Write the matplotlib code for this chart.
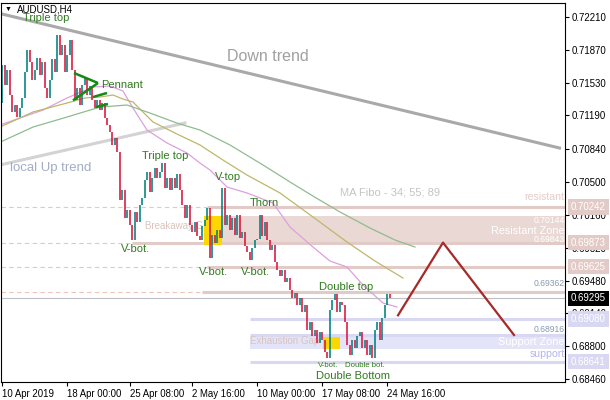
import numpy as np
import matplotlib.pyplot as plt
from matplotlib.transforms import blended_transform_factory

plt.rcParams['font.family'] = ['Liberation Sans', 'DejaVu Sans']

# ---- data (AUDUSD H4) ----
first_open = 0.71315
closes = [
    0.71713, 0.71505, 0.71661, 0.71402, 0.71226, 0.71298, 0.71174, 0.71267, 0.71371, 0.71640,
    0.71868, 0.71744, 0.71557, 0.71661, 0.71785, 0.71609, 0.71744, 0.71474, 0.71371, 0.71557,
    0.71770, 0.71640, 0.72023, 0.71816, 0.71920, 0.71640, 0.71816, 0.71972, 0.71661, 0.71346,
    0.71474, 0.71298, 0.71505, 0.71578, 0.71402, 0.71495, 0.71346, 0.71267, 0.71346, 0.71246,
    0.71315, 0.71164, 0.71091, 0.71018, 0.70884, 0.70956, 0.70811, 0.70314, 0.70418, 0.70128,
    0.70210, 0.70055, 0.69900, 0.70190, 0.70086, 0.70262, 0.70335, 0.70521, 0.70604, 0.70397,
    0.70542, 0.70646, 0.70542, 0.70604, 0.70697, 0.70438, 0.70542, 0.70418, 0.70542, 0.70438,
    0.70583, 0.70418, 0.70262, 0.70128, 0.70262, 0.70055, 0.69982, 0.70086, 0.69941, 0.69900,
    0.70045, 0.70107, 0.70231, 0.69713, 0.69951, 0.69869, 0.70003, 0.69920, 0.70438, 0.70055,
    0.70159, 0.70003, 0.70128, 0.69951, 0.70159, 0.69920, 0.69982, 0.69838, 0.69775, 0.69692,
    0.69817, 0.69900, 0.69910, 0.70159, 0.69941, 0.70086, 0.69900, 0.69796, 0.69848, 0.69672,
    0.69589, 0.69527, 0.69589, 0.69465, 0.69506, 0.69382, 0.69299, 0.69351, 0.69226, 0.69299,
    0.69154, 0.69226, 0.68967, 0.69050, 0.68905, 0.68967, 0.68833, 0.68947, 0.68864, 0.68739,
    0.68677, 0.69174, 0.69278, 0.69341, 0.69154, 0.69257, 0.69226, 0.69050, 0.68812, 0.68708,
    0.68864, 0.68781, 0.68905, 0.68947, 0.68781, 0.68864, 0.68708, 0.68812, 0.68677, 0.68967,
    0.69050, 0.68864, 0.69092, 0.69226, 0.69341, 0.69295,
]

time_ticks = [0, 26, 51, 76, 102, 128, 154]
time_labels = ['10 Apr 2019', '18 Apr 00:00', '25 Apr 08:00', '2 May 16:00',
               '10 May 00:00', '17 May 08:00', '24 May 16:00']
price_ticks = [0.72210, 0.71870, 0.71530, 0.71190, 0.70840, 0.70500,
               0.70160, 0.69820, 0.69480, 0.69140, 0.68800, 0.68460]

# moving averages (MA Fibo 34 / 55 / 89), bar position and price
ma34_x = [-0.8, 7.2, 16.4, 26, 36.4, 43.2, 48.4, 52.4, 58, 66, 74, 79.2, 83.2, 90, 98,
          108.4, 115.2, 124.4, 131.2, 138, 144.4, 152.4, 158]
ma34_y = [0.71091, 0.71164, 0.71246, 0.71371, 0.71485, 0.71495, 0.71443, 0.71267, 0.71039,
          0.70905, 0.70801, 0.70697, 0.70625, 0.70449, 0.70387, 0.70283, 0.70034, 0.69827,
          0.69682, 0.69620, 0.69433, 0.69247, 0.69206]
ma55_x = [-0.8, 12.4, 26, 33.2, 39.2, 44.4, 48.4, 52.4, 60.4, 69.2, 79.2, 88.4, 98, 111.2,
          124.4, 138, 149.2, 160.4]
ma55_y = [0.71070, 0.71226, 0.71319, 0.71371, 0.71381, 0.71402, 0.71360, 0.71329, 0.71122,
          0.71008, 0.70884, 0.70728, 0.70573, 0.70387, 0.70138, 0.69879, 0.69682, 0.69506]
ma89_x = [-0.8, 12.4, 26, 39.2, 50, 59.2, 70, 79.2, 91.2, 104.4, 115.2, 124.4, 135.2, 147.2,
          157.2, 165.2]
ma89_y = [0.70913, 0.71070, 0.71174, 0.71277, 0.71298, 0.71215, 0.71111, 0.71039, 0.70884,
          0.70677, 0.70501, 0.70355, 0.70190, 0.70024, 0.69900, 0.69827]

# trend lines and projection
down_trend_x = [0, 223]
down_trend_y = [0.72241, 0.70853]
up_trend_x = [-0.8, 73.2]
up_trend_y = [0.70677, 0.71112]
projection_x = [158.4, 176.4, 204.8]
projection_y = [0.69120, 0.69873, 0.68916]

# pennant drawing
pennant_segments = [
    ([28.8, 38.4], [0.71630, 0.71526]),
    ([38.4, 28.4], [0.71526, 0.71346]),
    ([36.4, 42.0], [0.71381, 0.71423]),
    ([37.6, 42.4], [0.71277, 0.71309]),
]

# horizontal levels: price, where the solid part starts
resist_levels = [0.70242, 0.69873, 0.69625, 0.69362]
resist_starts = [82, 52, 82, 80]
support_levels = [0.69080, 0.68916, 0.68641]
support_start = 99
resist_zone = (0.69843, 0.70144)
support_zone = (0.68775, 0.68900)
breakaway_box = (80.8, 88.0)
exhaustion_box = (128.4, 135.2)
last_price = 0.69295

UP = '#008080'
DOWN = '#dc143c'
PINK_LINE = '#e2cbc6'
PINK_ZONE = '#ead8d4'
LAV_LINE = '#d8d8f2'
LAV_ZONE = '#e4e4f8'
GREEN_TXT = '#2f7a1e'

fig = plt.figure(figsize=(6.1, 4.0), dpi=100)
ax = fig.add_axes([1 / 610, 18 / 400, 564 / 610, 379 / 400])
x_left, x_right = -0.4, 225.2
ax.set_xlim(x_left, x_right)
ax.set_ylim(0.68429, 0.72355)

# zones
ax.axhspan(*resist_zone, xmin=(breakaway_box[0] - x_left) / (x_right - x_left),
           color=PINK_ZONE, lw=0, zorder=0.5)
ax.axhspan(*support_zone, xmin=(support_start - x_left) / (x_right - x_left),
           color=LAV_ZONE, lw=0, zorder=0.5)

for lvl, st in zip(resist_levels, resist_starts):
    ax.hlines(lvl, x_left, st, colors='#efc2ba', lw=0.8, linestyles=(0, (4, 3)), zorder=0.6)
    ax.hlines(lvl, st, x_right, colors=PINK_LINE, lw=2.2, zorder=0.6)
for lvl in support_levels:
    ax.hlines(lvl, support_start, x_right, colors=LAV_LINE, lw=2.2, zorder=0.6)
ax.axhline(last_price, color='#c0c0c0', lw=0.8, zorder=0.7)

# gap boxes
for x0, x1 in [breakaway_box]:
    ax.fill_between([x0, x1], resist_zone[0], resist_zone[1], color='#ffd700', lw=0, zorder=1)
for x0, x1 in [exhaustion_box]:
    ax.fill_between([x0, x1], support_zone[0], support_zone[1], color='#ffd700', lw=0, zorder=1)

# trend lines
ax.plot(down_trend_x, down_trend_y, color='#a9a9a9', lw=2.2, zorder=1.2)
ax.plot(up_trend_x, up_trend_y, color='#d3d3d3', lw=2.2, zorder=1.2)

# moving averages
ax.plot(ma34_x, ma34_y, color='#dda0dd', lw=0.9, zorder=1.5)
ax.plot(ma55_x, ma55_y, color='#bdb76b', lw=0.9, zorder=1.5)
ax.plot(ma89_x, ma89_y, color='#8fbc8f', lw=0.9, zorder=1.5)

# bars
c = np.array(closes)
o = np.concatenate([[first_open], c[:-1]])
xb = np.arange(len(c))
cols = [UP if cc >= oo else DOWN for oo, cc in zip(o, c)]
ax.vlines(xb, np.minimum(o, c), np.maximum(o, c), colors=cols, lw=1.15, zorder=2)

# pennant and projection
for sx, sy in pennant_segments:
    ax.plot(sx, sy, color='#138a13', lw=1.8, zorder=3, solid_capstyle='butt')
ax.plot(projection_x, projection_y, color='#a52a2a', lw=1.6, zorder=3)

# annotations
ann = dict(color=GREEN_TXT, fontsize=8, va='center', ha='left', zorder=5)
ax.text(8.4, 0.72200, 'Triple top', **ann)
ax.text(39.6, 0.71505, 'Pennant', **ann)
ax.text(56, 0.70770, 'Triple top', **ann)
ax.text(47.6, 0.69806, 'V-bot.', **ann)
ax.text(85.2, 0.70552, 'V-top', **ann)
ax.text(99.2, 0.70283, 'Thorn', **ann)
ax.text(78.8, 0.69568, 'V-bot.', **ann)
ax.text(95.6, 0.69568, 'V-bot.', **ann)
ax.text(126.8, 0.69413, 'Double top', **ann)
ax.text(125.6, 0.68491, 'Double Bottom', **ann)
ax.text(126.4, 0.68605, 'V-bot.', color=GREEN_TXT, fontsize=5.6, va='center', zorder=5)
ax.text(137.2, 0.68605, 'Double bot.', color=GREEN_TXT, fontsize=5.6, va='center', zorder=5)

ax.text(90, 0.71796, 'Down trend', color='#a0a0a0', fontsize=11.5, va='center')
ax.text(3.2, 0.70646, 'local Up trend', color='#a4acc4', fontsize=9.5, va='center')
ax.text(57.2, 0.70045, 'Breakaway Gap', color='#dcc3bc', fontsize=7, va='center', zorder=0.9)
ax.text(99.2, 0.68853, 'Exhaustion Gap', color='#d8c4be', fontsize=7, va='center', zorder=0.9)
ax.text(135.2, 0.70397, 'MA Fibo - 34; 55; 89', color='#c4c4c4', fontsize=8, va='center')

rt = dict(ha='right', va='center', zorder=5)
ax.text(225, 0.70345, 'resistant', color='#e6ccc6', fontsize=7.6, **rt)
ax.text(225, 0.70107, '0.70144', color='white', fontsize=6.2, **rt)
ax.text(225, 0.69993, 'Resistant Zone', color='white', fontsize=7.8, **rt)
ax.text(225, 0.69900, '0.69843', color='white', fontsize=6.2, **rt)
ax.text(225, 0.69454, '0.69362', color='#8a9ab0', fontsize=6.2, **rt)
ax.text(225, 0.68978, '0.68916', color='#8a9ab0', fontsize=6.2, **rt)
ax.text(225, 0.68843, 'Support Zone', color='white', fontsize=7.8, **rt)
ax.text(225, 0.68719, 'support', color='#b4b4ee', fontsize=7.6, **rt)

# header
fig.text(17 / 610, 1 - 9 / 400, 'AUDUSD,H4', fontsize=7, va='center', ha='left')
fig.text(8.5 / 610, 1 - 9 / 400, '\u25bc', fontsize=5, va='center', ha='center')

# axes styling
for s in ax.spines.values():
    s.set_color('black')
    s.set_linewidth(0.8)
ax.yaxis.tick_right()
ax.set_yticks(price_ticks)
ax.set_yticklabels([f'{p:.5f}' for p in price_ticks])
ax.set_xticks(time_ticks)
ax.set_xticklabels(time_labels, ha='left')
ax.tick_params(axis='both', labelsize=6.9, length=3, width=0.8, color='black', pad=2)

# price boxes on the right scale
tr = blended_transform_factory(ax.transAxes, ax.transData)
boxes = [(0.70242, PINK_LINE), (0.69873, PINK_LINE), (0.69625, PINK_LINE),
         (last_price, 'black'), (0.69080, LAV_LINE), (0.68641, LAV_LINE)]
for val, fc in boxes:
    ax.text(1.0105, val, f'{val:.5f}', transform=tr, fontsize=6.9, color='white',
            va='center', ha='left', clip_on=False, zorder=10,
            bbox=dict(boxstyle='square,pad=0.3', fc=fc, ec='none'))

fig.savefig('out.png', dpi=100)
